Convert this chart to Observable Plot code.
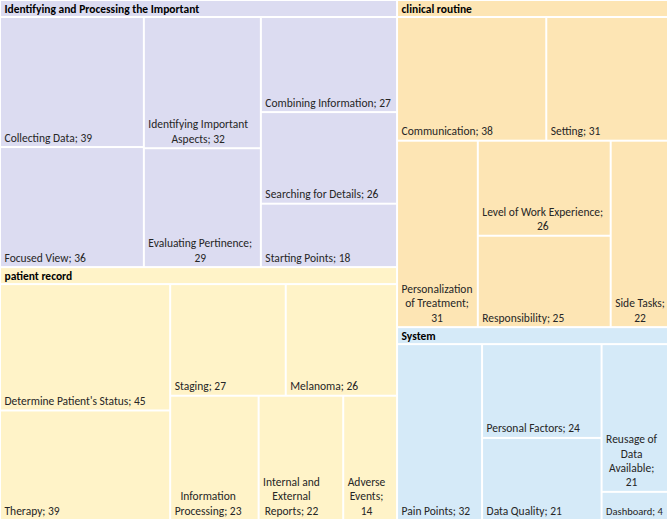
<!DOCTYPE html>
<html><head><meta charset="utf-8">
<script src="https://cdn.jsdelivr.net/npm/d3@7"></script>
<script src="https://cdn.jsdelivr.net/npm/@observablehq/plot@0.6"></script>
<style>body{margin:0;background:#fff;} #chart{width:668px;height:520px;}</style>
</head><body><div id="chart"></div>
<script>
const groups = ["Identifying and Processing the Important", "patient record", "clinical routine", "System"];
const groupColors = ["#dcdcf1", "#fff3c8", "#fde5b4", "#d5eaf8"];

const identifyingLabels = ["Collecting Data", "Focused View", "Identifying Important Aspects", "Evaluating Pertinence", "Combining Information", "Searching for Details", "Starting Points"];
const identifyingValues = [39, 36, 32, 29, 27, 26, 18];

const patientLabels = ["Determine Patient's Status", "Therapy", "Staging", "Melanoma", "Information Processing", "Internal and External Reports", "Adverse Events"];
const patientValues = [45, 39, 27, 26, 23, 22, 14];

const clinicalLabels = ["Communication", "Setting", "Personalization of Treatment", "Level of Work Experience", "Responsibility", "Side Tasks"];
const clinicalValues = [38, 31, 31, 26, 25, 22];

const systemLabels = ["Pain Points", "Personal Factors", "Data Quality", "Reusage of Data Available", "Dashboard"];
const systemValues = [32, 24, 21, 21, 4];

const W = 668, H = 520, HEADER = 17;
const FONT_STACK = "Carlito, Calibri, Lato, sans-serif";

const seriesLabels = [identifyingLabels, patientLabels, clinicalLabels, systemLabels];
const seriesValues = [identifyingValues, patientValues, clinicalValues, systemValues];

const tree = {
  name: "root",
  children: groups.map((g, i) => ({
    name: g, color: groupColors[i],
    children: seriesLabels[i].map((l, j) => ({name: l, value: seriesValues[i][j]}))
  }))
};

// squarified tiling (Excel-like target aspect)
function makeSquarify(ratio) {
  return function(parent, x0, y0, x1, y1) {
    const nodes = parent.children, n = nodes.length;
    let i0 = 0, i1 = 0, value = parent.value;
    while (i0 < n) {
      const dx = x1 - x0, dy = y1 - y0;
      let sumValue;
      do sumValue = nodes[i1++].value; while (!sumValue && i1 < n);
      let minValue = sumValue, maxValue = sumValue;
      const alpha = Math.max(dy / dx, dx / dy) / (value * ratio);
      let beta = sumValue * sumValue * alpha;
      let minRatio = Math.max(maxValue / beta, beta / minValue);
      for (; i1 < n; ++i1) {
        const nodeValue = nodes[i1].value;
        sumValue += nodeValue;
        if (nodeValue < minValue) minValue = nodeValue;
        if (nodeValue > maxValue) maxValue = nodeValue;
        beta = sumValue * sumValue * alpha;
        const newRatio = Math.max(maxValue / beta, beta / minValue);
        if (newRatio > minRatio) { sumValue -= nodeValue; break; }
        minRatio = newRatio;
      }
      const row = {value: sumValue, children: nodes.slice(i0, i1)};
      if (dx < dy) d3.treemapDice(row, x0, y0, x1, dy ? y0 += dy * sumValue / value : y1);
      else d3.treemapSlice(row, x0, y0, dx ? x0 += dx * sumValue / value : x1, y1);
      value -= sumValue; i0 = i1;
    }
  };
}

const root = d3.hierarchy(tree).sum(d => d.value || 0).sort((a, b) => b.value - a.value);
d3.treemap().size([W, H]).paddingTop(d => d.depth === 1 ? HEADER : 0).tile(makeSquarify(0.82))(root);

const ctx = document.createElement("canvas").getContext("2d");
function wrap(text, fs, maxW) {
  ctx.font = `${fs}px ${FONT_STACK}`;
  const words = text.split(" ");
  const lines = [];
  let cur = "";
  for (const w of words) {
    const t = cur ? cur + " " + w : w;
    if (!cur || ctx.measureText(t).width <= maxW) cur = t;
    else { lines.push(cur); cur = w; }
  }
  lines.push(cur);
  return {lines, width: Math.max(...lines.map(l => ctx.measureText(l).width))};
}

const groupNodes = root.children.map(g => ({name: g.data.name, color: g.data.color, x0: g.x0, x1: g.x1, y0: g.y0, y1: g.y1}));
const leaves = root.leaves().map(l => {
  const label = `${l.data.name}; ${l.data.value}`;
  const availW = (l.x1 - l.x0) - 7, availH = (l.y1 - l.y0) - 9;
  let fs = 11.5, res;
  for (; fs >= 7; fs -= 0.5) {
    res = wrap(label, fs, availW);
    if (res.width <= availW && res.lines.length * fs * 1.25 <= availH) break;
  }
  return {
    label: res.lines.join("\n"), fs, tw: res.width,
    color: l.parent.data.color, x0: l.x0, x1: l.x1, y0: l.y0, y1: l.y1
  };
});

const chart = Plot.plot({
  width: W, height: H, margin: 0,
  style: {fontFamily: FONT_STACK, background: "#fff"},
  x: {domain: [0, W], range: [0, W], axis: null},
  y: {domain: [0, H], range: [0, H], axis: null},
  color: {type: "identity"},
  marks: [
    Plot.rect(groupNodes, {x1: "x0", x2: "x1", y1: "y0", y2: d => d.y0 + HEADER, fill: "color", inset: 1}),
    Plot.rect(leaves, {x1: "x0", x2: "x1", y1: "y0", y2: "y1", fill: "color", inset: 1}),
    Plot.text(groupNodes, {x: d => d.x0 + 4, y: d => d.y0 + HEADER / 2, text: "name", textAnchor: "start",
      fontWeight: "bold", fontSize: 11.5, fill: "#000"}),
    Plot.text(leaves, {x: d => d.x0 + 4 + d.tw / 2, y: d => d.y1 - 6, text: "label", textAnchor: "middle",
      lineAnchor: "bottom", lineHeight: 1.25, fontSize: "fs", fill: "#262626"})
  ]
});
document.getElementById("chart").appendChild(chart);
</script>
</body></html>
